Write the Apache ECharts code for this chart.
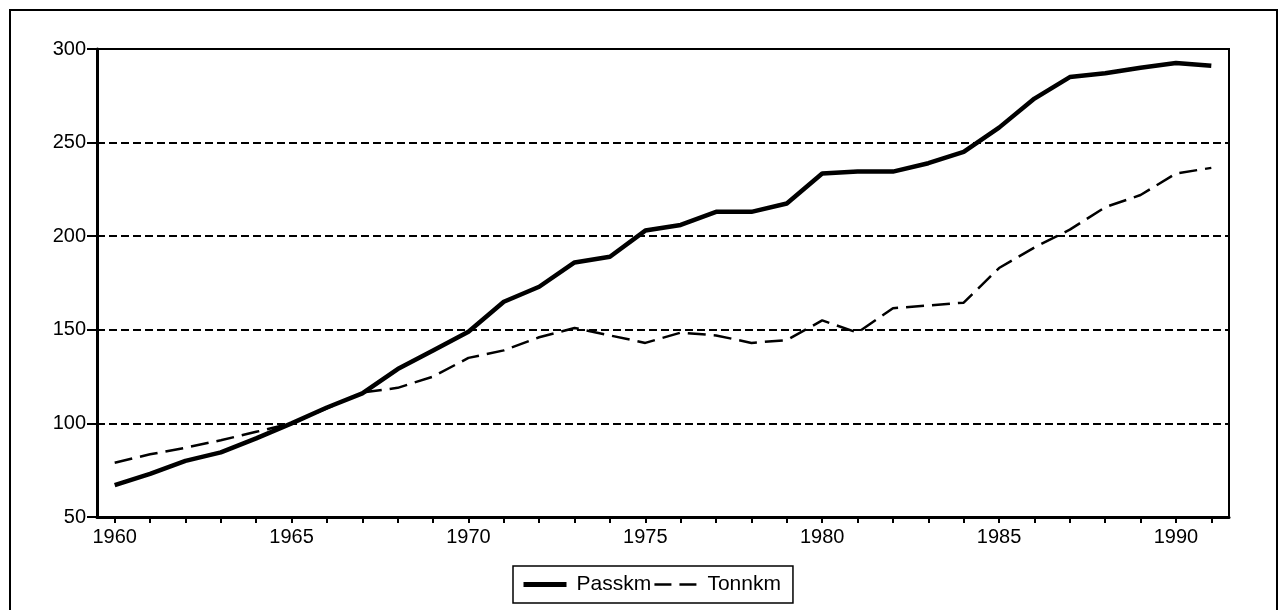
<!DOCTYPE html>
<html>
<head>
<meta charset="utf-8">
<script src="https://cdn.jsdelivr.net/npm/echarts@6/dist/echarts.min.js"></script>
<style>
  html, body { margin: 0; padding: 0; background: #fff; }
  #main { width: 1286px; height: 610px; }
</style>
</head>
<body>
<div id="main"></div>
<script>
// years on the x axis
var years = ['1960','1961','1962','1963','1964','1965','1966','1967','1968','1969',
             '1970','1971','1972','1973','1974','1975','1976','1977','1978','1979',
             '1980','1981','1982','1983','1984','1985','1986','1987','1988','1989',
             '1990','1991'];
// index values
var passkm = [67, 73, 80, 84.5, 92, 100, 108.5, 116, 129, 139,
              149, 165, 173, 186, 189, 203, 206, 213, 213, 217.5,
              233.5, 234.5, 234.5, 239, 245, 258, 273.5, 285, 287, 290,
              292.5, 291];
var tonnkm = [79, 83.5, 87, 91, 95.5, 100, 108, 116.5, 119, 125,
              135, 139, 146, 151, 147, 143, 148.5, 147, 143, 144.5,
              155, 148.5, 161.5, 163, 164.5, 183, 194, 203.5, 215.5, 222,
              233.5, 236.5];
var yTicks = [50, 100, 150, 200, 250, 300];

var font = '"Liberation Sans", Arial, sans-serif';
var chart = echarts.init(document.getElementById('main'));
chart.setOption({
  animation: false,
  backgroundColor: '#fff',
  graphic: [{
    type: 'rect',
    shape: { x: 10, y: 10, width: 1267, height: 620 },
    style: { fill: 'none', stroke: '#000', lineWidth: 2 },
    silent: true
  }],
  grid: {
    left: 97, top: 49, right: 57, bottom: 93,
    show: true, borderColor: '#000', borderWidth: 2
  },
  legend: {
    left: 513, top: 566,
    data: [
      { name: 'Passkm', lineStyle: { width: 5, color: '#000' } },
      { name: 'Tonnkm', lineStyle: { width: 2.5, color: '#000', type: [17, 8] } }
    ],
    itemWidth: 43, itemHeight: 14, itemGap: 2,
    itemStyle: { opacity: 0 },
    padding: [8, 12, 8, 8],
    borderColor: '#000', borderWidth: 1.5,
    textStyle: { color: '#000', fontSize: 21, fontFamily: font, padding: [0, 0, 0, 5] }
  },
  xAxis: {
    type: 'category',
    data: years,
    boundaryGap: true,
    axisLine: { show: true, lineStyle: { color: '#000', width: 3 } },
    axisTick: { show: true, interval: 0, alignWithLabel: true, length: 6, lineStyle: { color: '#000', width: 2 } },
    axisLabel: {
      interval: function (i) { return i % 5 === 0; },
      color: '#000', fontSize: 20, fontFamily: font, margin: 10
    },
    splitLine: { show: false }
  },
  yAxis: {
    type: 'value',
    min: yTicks[0], max: yTicks[yTicks.length - 1], interval: 50,
    axisLine: { show: true, lineStyle: { color: '#000', width: 3 } },
    axisTick: { show: true, length: 10, lineStyle: { color: '#000', width: 2 } },
    axisLabel: { color: '#000', fontSize: 20, fontFamily: font, margin: 11 },
    splitLine: { lineStyle: { color: '#000', width: 2, type: [8, 4] } }
  },
  series: [
    {
      name: 'Passkm',
      type: 'line',
      data: passkm,
      symbol: 'none',
      lineStyle: { color: '#000', width: 4.5 },
      itemStyle: { color: '#000' },
      z: 3
    },
    {
      name: 'Tonnkm',
      type: 'line',
      data: tonnkm,
      symbol: 'none',
      lineStyle: { color: '#000', width: 2.5, type: [18, 8] },
      itemStyle: { color: '#000' },
      z: 2
    }
  ]
});
</script>
</body>
</html>
